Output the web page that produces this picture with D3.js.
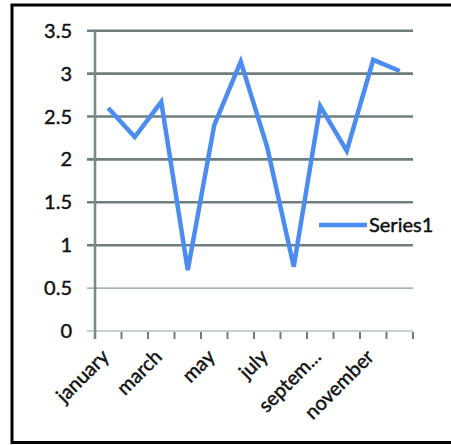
<!DOCTYPE html>
<html>
<head>
<meta charset="utf-8">
<script src="https://cdn.jsdelivr.net/npm/d3@7"></script>
<style>
  html, body { margin: 0; padding: 0; background: #fff; }
  svg { display: block; }
  text { font-family: Lato, "Open Sans", sans-serif; fill: #111; stroke: #111; stroke-width: 0.45px; }
</style>
</head>
<body>
<svg id="chart" width="451" height="445"></svg>
<script>
// Monthly values for the single series
const months = ["january", "february", "march", "april", "may", "june",
                "july", "august", "septem...", "october", "november", "december"];
const series1 = [2.60, 2.26, 2.67, 0.71, 2.40, 3.14, 2.14, 0.75, 2.62, 2.10, 3.16, 3.03];
const yTicks = [0, 0.5, 1, 1.5, 2, 2.5, 3, 3.5];
const yTickLabels = ["0", "0.5", "1", "1.5", "2", "2.5", "3", "3.5"];
const shownMonths = ["january", "march", "may", "july", "septem...", "november"];
const seriesName = "Series1";

const svg = d3.select("#chart");
const W = 451, H = 445;
const plot = { left: 95, right: 413, top: 30.7, bottom: 331 };
const fontSize = 20;

// Frame around the chart
svg.append("path")
  .attr("d", `M${W},5 H12 V442.5 H${W}`)
  .attr("fill", "none")
  .attr("stroke", "#000")
  .attr("stroke-width", 3);

const x = d3.scaleBand().domain(months).range([plot.left, plot.right]).padding(0);
const y = d3.scaleLinear().domain([0, 3.5]).range([plot.bottom, plot.top]);

// Horizontal gridlines
const grid = svg.append("g");
grid.selectAll("line")
  .data(yTicks)
  .join("line")
  .attr("x1", plot.left - 8)
  .attr("x2", plot.right)
  .attr("y1", d => y(d))
  .attr("y2", d => y(d))
  .attr("stroke", d => d === 0 ? "#b3c3c3" : (d === 0.5 ? "#8a9a9a" : "#6f7e7e"))
  .attr("stroke-width", d => d === 0 ? 1.5 : (d === 0.5 ? 1.3 : 2.6));

// Y labels
svg.append("g")
  .selectAll("text")
  .data(yTicks)
  .join("text")
  .attr("x", 72)
  .attr("y", d => y(d))
  .attr("dy", "0.35em")
  .attr("text-anchor", "end")
  .attr("font-size", fontSize)
  .text((d, i) => yTickLabels[i]);

// Vertical axis line
svg.append("line")
  .attr("x1", plot.left).attr("x2", plot.left)
  .attr("y1", plot.top - 1).attr("y2", plot.bottom + 8)
  .attr("stroke", "#7a8a8a")
  .attr("stroke-width", 2.6);

// Category tick marks on band boundaries
const boundaries = months.map(m => x(m)).concat([x(months[months.length - 1]) + x.bandwidth()]);
svg.append("g")
  .selectAll("line")
  .data(boundaries.slice(1))
  .join("line")
  .attr("x1", d => d).attr("x2", d => d)
  .attr("y1", plot.bottom + 1).attr("y2", plot.bottom + 8)
  .attr("stroke", "#6f7e7e")
  .attr("stroke-width", 2);

// Rotated month labels
svg.append("g")
  .selectAll("text")
  .data(shownMonths)
  .join("text")
  .attr("transform", d => `translate(${x(d) + x.bandwidth() / 2 + 2},${plot.bottom + 27}) rotate(-45)`)
  .attr("text-anchor", "end")
  .attr("font-size", fontSize)
  .text(d => d);

// Series line
const line = d3.line()
  .x((d, i) => x(months[i]) + x.bandwidth() / 2)
  .y(d => y(d));

svg.append("path")
  .datum(series1)
  .attr("d", line)
  .attr("fill", "none")
  .attr("stroke", "#4a8cf0")
  .attr("stroke-width", 4.5)
  .attr("stroke-linejoin", "miter")
  .attr("stroke-linecap", "butt");

// Legend
const lg = svg.append("g").attr("transform", "translate(319,225)");
lg.append("line")
  .attr("x1", 0).attr("x2", 48)
  .attr("y1", 0).attr("y2", 0)
  .attr("stroke", "#4a8cf0")
  .attr("stroke-width", 4.5);
lg.append("text")
  .attr("x", 50)
  .attr("y", 0)
  .attr("dy", "0.35em")
  .attr("font-size", fontSize)
  .text(seriesName);
</script>
</body>
</html>
